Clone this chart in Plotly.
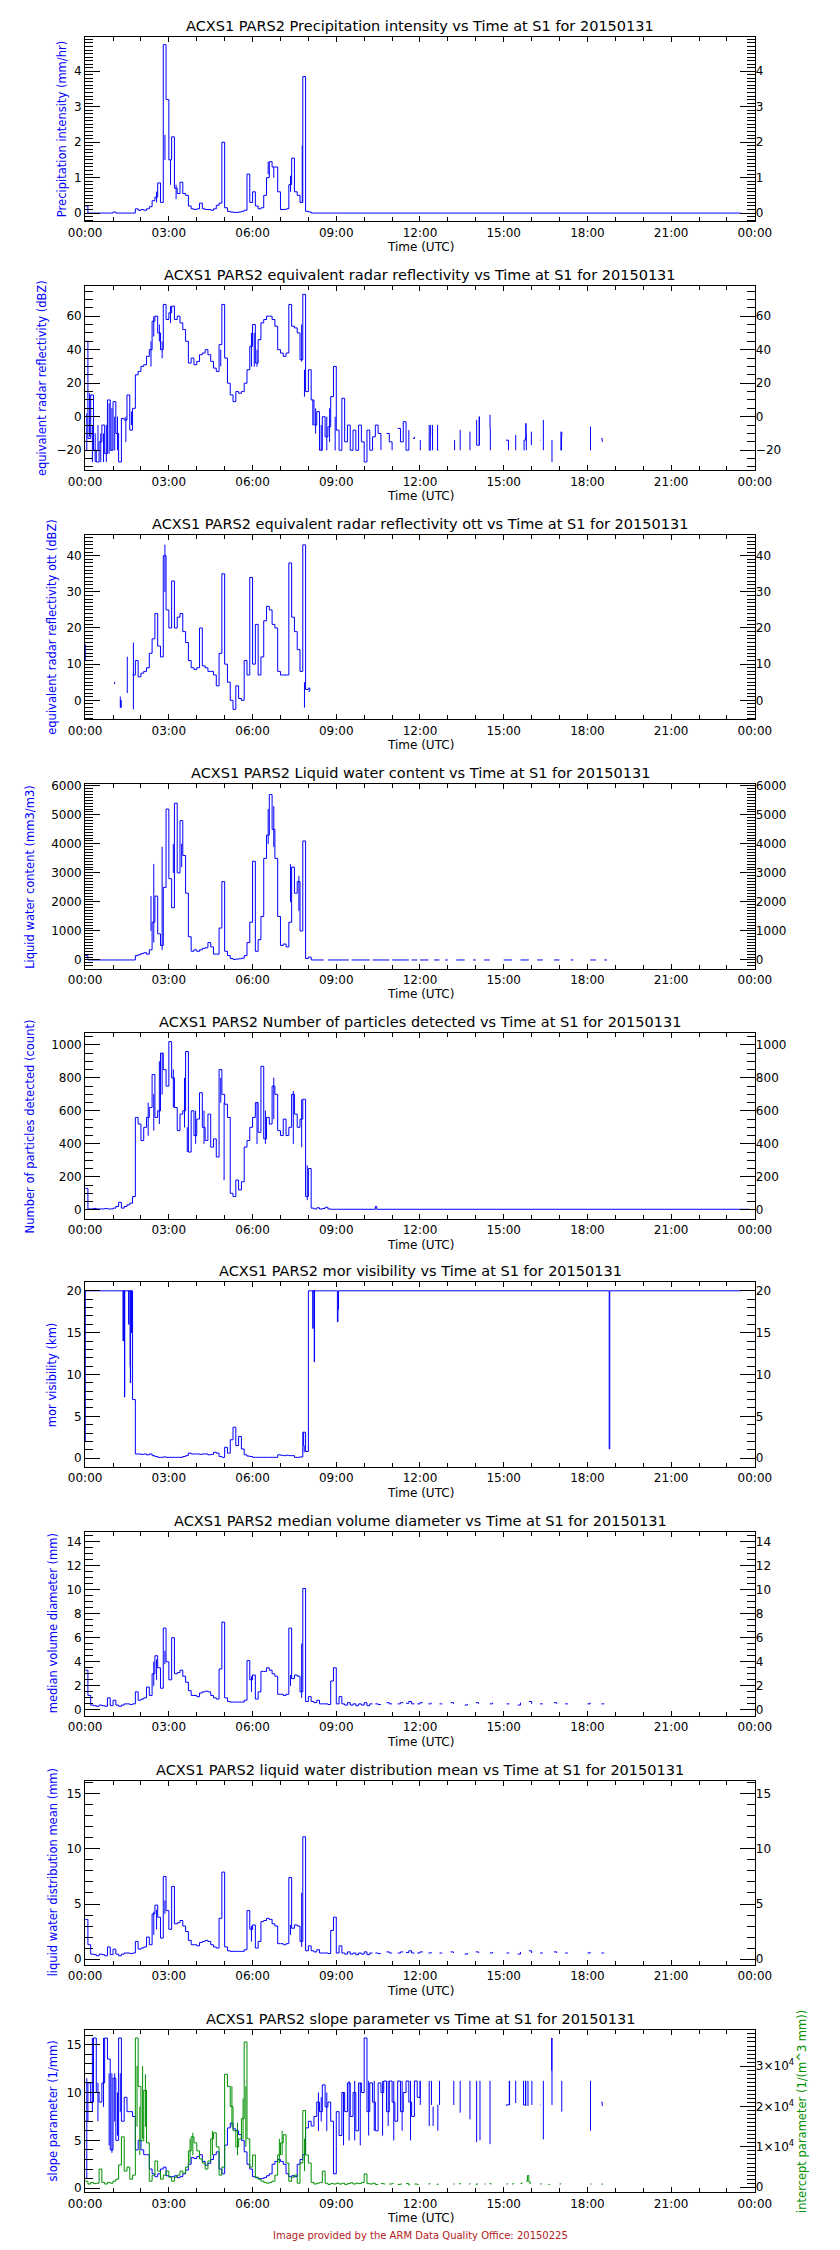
import plotly.graph_objects as go

# ---------------- data ----------------
HOURS = [round(i * 0.1, 1) for i in range(91)]  # sampling grid 00:00 .. 09:00

TICK_HOURS = [0, 3, 6, 9, 12, 15, 18, 21, 24]
TICK_TEXT = ["00:00", "03:00", "06:00", "09:00", "12:00", "15:00", "18:00", "21:00", "00:00"]

TITLES = [
    "ACXS1 PARS2 Precipitation intensity vs Time at S1 for 20150131",
    "ACXS1 PARS2 equivalent radar reflectivity vs Time at S1 for 20150131",
    "ACXS1 PARS2 equivalent radar reflectivity ott vs Time at S1 for 20150131",
    "ACXS1 PARS2 Liquid water content vs Time at S1 for 20150131",
    "ACXS1 PARS2 Number of particles detected vs Time at S1 for 20150131",
    "ACXS1 PARS2 mor visibility vs Time at S1 for 20150131",
    "ACXS1 PARS2 median volume diameter vs Time at S1 for 20150131",
    "ACXS1 PARS2 liquid water distribution mean vs Time at S1 for 20150131",
    "ACXS1 PARS2 slope parameter vs Time at S1 for 20150131",
]
YTITLES = [
    "Precipitation intensity (mm/hr)",
    "equivalent radar reflectivity (dBZ)",
    "equivalent radar reflectivity ott (dBZ)",
    "Liquid water content (mm3/m3)",
    "Number of particles detected (count)",
    "mor visibility (km)",
    "median volume diameter (mm)",
    "liquid water distribution mean (mm)",
    "slope parameter (1/mm)",
]
Y2TITLE = "intercept parameter (1/(m^3 mm))"
FOOTER = "Image provided by the ARM Data Quality Office: 20150225"

PRECIP = [
    0.2, 0, 0, 0, 0, 0, 0, 0, 0, 0,
    0.03, 0, 0, 0, 0, 0, 0, 0, 0.12, 0.08,
    0.1, 0.08, 0.12, 0.18, 0.35, 0.45, 0.85, 0.3, 4.75, 3.2,
    1.5, 2.15, 0.7, 0.55, 0.87, 0.55, 0.5, 0.2, 0.12, 0.1,
    0.12, 0.28, 0.12, 0.1, 0.1, 0.08, 0.12, 0.22, 0.28, 2.0,
    0.15, 0.05, 0.03, 0.02, 0.02, 0.03, 0.05, 0.08, 1.1, 0.3,
    0.6, 0.2, 0.12, 0.15, 0.5, 1.0, 1.45, 1.3, 1.3, 0.6,
    0.1, 0.1, 0.12, 0.8, 1.55, 0.6, 0.5, 0.3, 3.85, 0.05,
    0.03, 0, 0, 0, 0, 0, 0, 0, 0, 0,
    0]
PRECIP_TAIL = [(23.5, 0)]
PRECIP_EXTRA = [(2.55, 0.6), (2.56, 0.3), None, (2.85, 2.2), (2.86, 1.5), None,
                (3.05, 0.8), (3.06, 1.5), None, (3.25, 0.4), (3.26, 0.8), None,
                (6.55, 1.1), (6.56, 1.45), None, (6.75, 1.0), (6.76, 1.3), None,
                (7.35, 1.05), (7.36, 0.6), None, (7.77, 0.3), (7.78, 1.9), (7.8, 1.9)]

REFL = [
    45, -13, 13, -20, -27, -15, -5, -22, 10, -20,
    9, -10, -27, -1, -2, 13, -8, 5, 25, 27,
    30, 31, 36, 40, 57, 60, 50, 40, 67, 58,
    62, 66, 58, 60, 56, 52, 45, 32, 35, 31,
    33, 37, 38, 40, 37, 33, 29, 27, 43, 67,
    35, 20, 13, 9, 15, 14, 15, 20, 28, 42,
    55, 32, 46, 56, 58, 60, 60, 58, 54, 40,
    38, 36, 38, 67, 54, 53, 50, 34, 73, 15,
    28, 10, -5, 3, -20, 0, -12, -6, 12, 30,
    -8]
REFL_TAIL = [
    (9.1, -20), (9.2, 11), (9.3, -15), (9.4, -5), (9.5, -20), (9.6, -8), (9.7, -20),
    (9.8, -5), (9.9, -15), (10.0, -27), (10.1, -8), (10.2, -20), (10.3, -12), (10.4, -5),
    (10.5, -10), (10.6, -20), None, (10.8, -10), (10.9, -15), (11.0, -20), None,
    (11.2, -7), (11.3, -15), (11.4, -3), (11.5, -20), (11.6, -8), None,
    (11.75, -13), (11.8, -12), None, (12.0, -14), (12.01, -20), None,
    (12.32, -5), (12.33, -20), (12.37, -12), (12.38, -5), None,
    (12.44, -5), (12.45, -20), None, (12.62, -5), (12.63, -20), (12.66, -20), None,
    (13.23, -14), (13.24, -20), None, (13.43, -8), (13.44, -20), None,
    (13.78, -9), (13.79, -20), None, (14.02, -2), (14.03, -17), (14.12, 0), (14.13, -17), None,
    (14.5, 1), (14.51, -7), (14.52, -20), None, (15.08, -14), (15.16, -14), (15.17, -20), None,
    (15.42, -11), (15.43, -20), None,
    (15.72, -20), (15.73, -14), (15.78, -12), (15.79, -4), (15.8, -10), (15.81, -20), None,
    (15.98, -9), (15.99, -17), None, (16.3, -14), (16.32, -14), None,
    (16.41, -2), (16.42, -20), None, (16.72, -14), (16.73, -27), None,
    (17.04, -9), (17.05, -20), (17.07, -12), (17.08, -9), None,
    (18.1, -6), (18.11, -20), None, (18.5, -13), (18.53, -15)]
REFL_EXTRA = [
    (0.05, -20), (0.06, 2), None, (0.15, 14), (0.16, -12), None, (0.25, -27), (0.26, -5), None,
    (0.35, -10), (0.36, -27), None, (0.45, -20), (0.46, -5), None, (0.55, -27), (0.56, -10), None,
    (0.65, -27), (0.66, -10), None, (0.75, -5), (0.76, -27), None, (0.85, -22), (0.86, 8), None,
    (0.95, 5), (0.96, -20), None, (1.05, -20), (1.06, 0), None, (1.15, 0), (1.16, -20), None,
    (1.45, -15), (1.46, 0), None, (1.65, 3), (1.66, -5), None, (2.35, 30), (2.36, 45), None,
    (2.45, 48), (2.46, 60), None, (2.65, 45), (2.66, 55), None, (2.75, 35), (2.76, 45), None,
    (3.05, 56), (3.06, 66), None, (4.85, 40), (4.86, 30), None, (5.95, 30), (5.96, 50), None,
    (6.05, 30), (6.06, 50), None, (6.15, 30), (6.16, 40), None, (7.75, 33), (7.76, 55), None,
    (7.85, 12), (7.86, 28), None, (8.15, -5), (8.16, 10), None, (8.25, -10), (8.26, 5), None,
    (8.45, -20), (8.46, -5), None, (8.65, -20), (8.66, 0), None, (8.75, -15), (8.76, 5), None,
    (8.95, -20), (8.96, 0)]

OTT = [
    None, None, None, None, None, None, None, None, None, None,
    None, None, None, None, None, None, None, 7, 11, 6.5,
    7.5, 8, 9, 13, 17, 24, 15, 12, 40, 25,
    20, 33, 20, 23, 24, 19, 16, 11, 9, 8.5,
    9, 20, 9.5, 9, 8, 8, 7, 4, 13, 35,
    10, 5, 0, -2.5, 4, 0.5, 0, 11, 7, 34,
    10, 21, 7, 12, 22, 26, 25, 21, 20, 8,
    7, 7, 7, 38, 23, 19, 14, 8, 43, 3,
    3.5, None, None, None, None, None, None, None, None, None,
    None]
OTT_TAIL = []
OTT_EXTRA = [(0.0, 11), (0.01, 15.5), None, (1.04, 5), (1.06, 4.5), None,
             (1.25, 1), (1.26, -2), (1.28, 0), (1.29, -2), None, (1.5, 12), (1.51, 2), None,
             (1.72, -2.5), (1.73, 16), None, (2.85, 43), (2.86, 30), None,
             (7.85, -2), (7.86, 5), None, (8.0, 2.5), (8.05, 3.5)]

LWC = [
    150, 0, 0, 0, 0, 0, 0, 0, 0, 0,
    0, 0, 0, 0, 0, 0, 0, 0, 150, 180,
    220, 250, 200, 350, 1300, 2200, 900, 500, 2500, 5200,
    2800, 1800, 5400, 3000, 4800, 3600, 2300, 800, 300, 350,
    300, 350, 400, 420, 600, 450, 200, 200, 1100, 2700,
    300, 150, 50, 20, 30, 40, 60, 150, 600, 1300,
    3400, 300, 700, 1500, 3500, 4300, 5700, 4500, 3500, 1500,
    500, 550, 450, 1300, 3200, 2300, 2700, 1000, 4100, 50,
    100, 0, None, None, None, None, None, None, None, None,
    None]
LWC_TAIL = [
    (8.1, 0), (8.55, 0), None, (8.7, 0), (9.45, 0), None, (9.55, 0), (10.2, 0), None,
    (10.3, 0), (10.9, 0), None, (11.0, 0), (11.6, 0), None, (11.7, 0), (11.9, 0), None,
    (12.0, 0), (12.3, 0), None, (12.5, 0), (12.7, 0), None, (12.9, 0), (13.0, 0), None,
    (13.3, 0), (13.6, 0), None, (13.9, 0), (14.0, 0), None, (14.3, 0), (14.5, 0), None,
    (15.0, 0), (15.3, 0), None, (15.6, 0), (15.9, 0), None, (16.2, 0), (16.4, 0), None,
    (16.8, 0), (17.0, 0), None, (17.4, 0), (17.5, 0), None, (18.1, 0), (18.3, 0), None,
    (18.6, 0), (18.7, 0)]
LWC_EXTRA = [(2.35, 2200), (2.36, 1000), None, (2.45, 3300), (2.46, 600), None,
             (2.75, 350), (2.76, 3900), None, (3.15, 3000), (3.16, 4000), None,
             (3.45, 4000), (3.46, 3200), None, (6.55, 4000), (6.56, 5200), None,
             (6.75, 3900), (6.76, 5300), None, (7.35, 2000), (7.36, 3300), None,
             (7.65, 1700), (7.66, 2900)]

COUNT = [
    130, 5, 5, 8, 5, 5, 5, 8, 5, 5,
    10, 20, 45, 10, 20, 30, 40, 80, 560, 520,
    420, 500, 560, 620, 820, 560, 600, 950, 850, 750,
    1020, 800, 620, 480, 580, 600, 960, 350, 600, 450,
    550, 710, 500, 420, 580, 380, 430, 320, 850, 700,
    640, 560, 100, 80, 180, 120, 170, 380, 420, 500,
    560, 650, 470, 870, 430, 560, 520, 750, 700, 480,
    450, 550, 450, 500, 700, 580, 500, 550, 670, 80,
    250, 10, 5, 12, 4, 8, 15, 5, 3, 3,
    3]
COUNT_TAIL = [(10.35, 3), (10.4, 20), (10.45, 3), (23.8, 3)]
COUNT_EXTRA = [(2.25, 450), (2.26, 650), None, (2.45, 700), (2.46, 480), None,
               (2.65, 900), (2.66, 520), None, (2.75, 700), (2.76, 950), None,
               (3.15, 850), (3.16, 620), None, (3.55, 500), (3.56, 800), None,
               (3.65, 500), (3.66, 350), None, (3.95, 600), (3.96, 400), None,
               (4.25, 600), (4.26, 400), None, (4.85, 650), (4.86, 800), None,
               (4.97, 180), (4.98, 650), None, (6.15, 400), (6.16, 650), None,
               (6.45, 600), (6.46, 400), None, (6.75, 800), (6.76, 550), None,
               (7.45, 400), (7.46, 720), None, (7.75, 380), (7.76, 670), None,
               (7.95, 60), (7.96, 270)]

VIS = [
    20, 20, 20, 20, 20, 20, 20, 20, 20, 20,
    20, 20, 20, 20, 20, 20, 20, 7, 0.5, 0.5,
    0.45, 0.5, 0.4, 0.5, 0.3, 0.2, 0.1, 0.1, 0.15, 0.1,
    0.1, 0.1, 0.1, 0.1, 0.1, 0.2, 0.3, 0.6, 0.5, 0.5,
    0.5, 0.45, 0.5, 0.5, 0.4, 0.45, 0.7, 0.6, 0.2, 0.1,
    1.3, 0.6, 2.2, 3.7, 1.5, 2.6, 1.1, 0.4, 0.25, 0.2,
    0.1, 0.1, 0.1, 0.1, 0.1, 0.1, 0.1, 0.1, 0.1, 0.4,
    0.35, 0.3, 0.35, 0.3, 0.3, 0.1, 0.1, 0.15, 3.1, 0.8,
    20, 20, 20, 20, 20, 20, 20, 20, 20, 20,
    20]
VIS_TAIL = [(9.03, 20), (9.04, 16.3), (9.06, 17.8), (9.08, 20), (18.77, 20),
            (18.78, 1.1), (18.8, 20), (23.5, 20)]
VIS_EXTRA = [(0.0, 2), (0.01, 20), None, (1.35, 20), (1.36, 14), (1.37, 20), None,
             (1.4, 20), (1.41, 7.3), (1.42, 20), None, (1.55, 20), (1.56, 16), (1.57, 20), None,
             (1.6, 20), (1.61, 11), (1.62, 9), (1.63, 20), None,
             (1.65, 20), (1.66, 15), (1.67, 20), None, (8.15, 20), (8.16, 15.5), (8.17, 20), None,
             (8.2, 20), (8.21, 11.5), (8.22, 20), None, (7.82, 3.1), (7.83, 1.5), (7.85, 0.7)]

MVD = [
    3.3, 1.2, 0.4, 0.35, 0.3, 0.4, 0.35, 0.3, 1.0, 0.35,
    0.8, 0.4, 0.3, 0.4, 0.5, 0.5, 0.45, 0.5, 1.5, 0.8,
    0.9, 1.0, 1.9, 1.2, 3.0, 4.5, 3.5, 1.8, 6.8, 4.0,
    2.5, 6.0, 3.0, 3.1, 3.3, 2.8, 2.3, 1.6, 1.2, 1.2,
    1.1, 1.4, 1.5, 1.55, 1.5, 1.2, 1.0, 0.9, 3.4, 7.3,
    1.0, 0.7, 0.65, 0.65, 0.65, 0.65, 0.65, 0.8, 4.1, 2.5,
    2.9, 0.9, 1.5, 3.2, 3.2, 3.5, 3.3, 3.0, 2.8, 1.3,
    1.3, 1.2, 1.3, 6.8, 2.6, 2.9, 2.8, 1.5, 10.1, 0.7,
    1.1, 0.7, 0.6, 0.8, 0.5, 0.5, 0.5, 0.45, 2.4, 3.5,
    0.5]
MVD_TAIL = [
    (9.1, 1.1), (9.2, 0.5), (9.3, 0.4), (9.4, 0.6), (9.5, 0.4), (9.6, 0.5), (9.7, 0.35),
    (9.8, 0.5), (9.9, 0.4), (10.0, 0.6), (10.1, 0.35), (10.2, 0.5), (10.3, 0.5), None,
    (10.4, 0.5), (10.5, 0.45), (10.6, 0.45), None, (10.8, 0.6), (10.9, 0.5), (11.0, 0.5), None,
    (11.2, 0.5), (11.3, 0.6), (11.4, 0.6), None, (11.5, 0.55), (11.6, 0.7), (11.7, 0.5),
    (11.8, 0.5), None, (11.9, 0.5), (12.0, 0.6), (12.1, 0.6), None, (12.3, 0.5), (12.4, 0.6), None,
    (12.7, 0.5), (12.8, 0.5), None, (13.1, 0.6), (13.2, 0.5), None, (13.6, 0.4), (13.7, 0.5), None,
    (14.0, 0.6), (14.1, 0.5), None, (14.5, 0.5), (14.6, 0.6), None, (15.1, 0.5), (15.2, 0.5), None,
    (15.5, 0.4), (15.6, 0.6), None, (15.9, 0.7), (16.0, 0.5), None, (16.3, 0.5), (16.4, 0.5), None,
    (16.8, 0.6), (16.9, 0.5), None, (17.2, 0.5), (17.3, 0.5), None, (18.0, 0.5), (18.1, 0.6), None,
    (18.5, 0.5), (18.6, 0.5)]
MVD_EXTRA = [(2.45, 2.0), (2.46, 4.0), None, (2.55, 2.5), (2.56, 4.2), None,
             (2.85, 4.9), (2.86, 3.8), None, (5.95, 1.5), (5.96, 2.8), None,
             (7.35, 2.0), (7.36, 2.9), None, (7.75, 5.5), (7.76, 1.0)]

LWDM = [
    3.6, 1.3, 0.45, 0.4, 0.3, 0.45, 0.4, 0.3, 1.1, 0.4,
    0.9, 0.45, 0.3, 0.45, 0.55, 0.55, 0.5, 0.55, 1.6, 0.9,
    1.0, 1.1, 2.0, 1.3, 4.1, 4.9, 3.8, 1.9, 7.5, 4.4,
    2.7, 6.6, 3.2, 3.3, 3.5, 3.0, 2.5, 1.7, 1.3, 1.3,
    1.2, 1.5, 1.6, 1.7, 1.6, 1.3, 1.1, 1.0, 3.7, 7.9,
    1.1, 0.75, 0.7, 0.7, 0.7, 0.7, 0.7, 0.85, 4.4, 2.7,
    3.1, 1.0, 1.6, 3.4, 3.5, 3.7, 3.6, 3.2, 3.0, 1.4,
    1.4, 1.3, 1.4, 7.4, 2.8, 3.1, 3.0, 1.6, 11.1, 0.75,
    1.2, 0.75, 0.65, 0.85, 0.55, 0.55, 0.55, 0.5, 2.6, 3.8,
    0.55]
LWDM_TAIL = [
    (9.1, 1.2), (9.2, 0.55), (9.3, 0.45), (9.4, 0.65), (9.5, 0.45), (9.6, 0.55), (9.7, 0.4),
    (9.8, 0.55), (9.9, 0.45), (10.0, 0.65), (10.1, 0.4), (10.2, 0.55), (10.3, 0.55), None,
    (10.4, 0.55), (10.5, 0.5), (10.6, 0.5), None, (10.8, 0.65), (10.9, 0.55), (11.0, 0.55), None,
    (11.2, 0.55), (11.3, 0.65), (11.4, 0.65), None, (11.5, 0.6), (11.6, 0.75), (11.7, 0.55),
    (11.8, 0.55), None, (11.9, 0.55), (12.0, 0.65), (12.1, 0.65), None, (12.3, 0.55), (12.4, 0.65), None,
    (12.7, 0.55), (12.8, 0.55), None, (13.1, 0.65), (13.2, 0.55), None, (13.6, 0.45), (13.7, 0.55), None,
    (14.0, 0.65), (14.1, 0.55), None, (14.5, 0.55), (14.6, 0.65), None, (15.1, 0.55), (15.2, 0.55), None,
    (15.5, 0.45), (15.6, 0.65), None, (15.9, 0.75), (16.0, 0.55), None, (16.3, 0.55), (16.4, 0.55), None,
    (16.8, 0.65), (16.9, 0.55), None, (17.2, 0.55), (17.3, 0.55), None, (18.0, 0.55), (18.1, 0.65), None,
    (18.5, 0.55), (18.6, 0.55)]
LWDM_EXTRA = [(2.45, 2.2), (2.46, 4.3), None, (2.55, 2.7), (2.56, 4.5), None,
              (2.85, 5.3), (2.86, 4.1), None, (5.95, 1.6), (5.96, 3.0), None,
              (7.35, 2.2), (7.36, 3.1), None, (7.75, 6.0), (7.76, 1.1)]

SLOPE = [
    7, 11, 9, 15.7, 10, 9, 11, 15.7, 13.5, 4,
    11.5, 5, 15.7, 7, 9.5, 8, 8, 7.5, 4, 5,
    4, 3.5, 3.5, 2, 1.5, 1.2, 1.5, 2, 2.2, 1.3,
    1.2, 1.2, 1.3, 1.1, 1.2, 1.5, 1.9, 2.5, 3.2, 3.1,
    3.3, 3.5, 2.8, 2.4, 2.6, 3.0, 3.5, 3.8, 2.0, 1.5,
    4.5, 6.3, 6.8, 6.2, 6.0, 5.6, 5.0, 3.8, 2.5, 2.0,
    1.2, 1.1, 1.0, 1.0, 1.1, 1.3, 1.5, 2.5, 2.8, 3.0,
    2.8, 2.5, 1.5, 1.2, 1.3, 1.2, 2.5, 3.0, 3.5, 6.3,
    7.0, 6.5, 7.5, 9.0, 8.0, 10.8, 8.5, 9.0, 7.0, 1.5,
    8.0]
SLOPE_TAIL = [
    (9.1, 5.5), (9.2, 10), (9.3, 8), (9.4, 11), (9.5, 7.5), (9.6, 10), (9.7, 6), (9.8, 11),
    (9.9, 10), (10.0, 15.7), (10.1, 8), (10.2, 11), (10.3, 9), (10.4, 6), (10.5, 11), (10.6, 10),
    (10.7, 11.2), (10.8, 8), (10.9, 11.2), (11.0, 9), (11.1, 7), (11.2, 11.2), (11.3, 8),
    (11.4, 10), (11.5, 11.2), (11.6, 9), (11.7, 7.5), (11.8, 11.2), (11.9, 9.5), (12.0, 11.2),
    (12.01, 8.7), None, (12.32, 11.2), (12.33, 6.5), None, (12.4, 11.2), (12.41, 8.7), None,
    (12.46, 8.5), (12.47, 6.5), None, (12.63, 8.7), (12.64, 6.0), None, (12.69, 11.2), (12.7, 8.7), None,
    (13.2, 11.2), (13.21, 8.7), None, (13.43, 11.2), (13.44, 7.9), None, (13.78, 11.2), (13.79, 7.2), None,
    (14.02, 11.2), (14.03, 4.8), None, (14.14, 11.2), (14.15, 5.0), None, (14.5, 11.2), (14.51, 4.6), None,
    (15.07, 8.7), (15.19, 8.7), (15.2, 11.2), (15.21, 8.7), None, (15.42, 11.2), (15.43, 8.9), None,
    (15.7, 11.2), (15.71, 8.7), (15.78, 11.2), (15.79, 8.6), None, (15.86, 11.2), (15.87, 8.6), None,
    (16.0, 11.2), (16.01, 8.7), None, (16.3, 8.7), (16.32, 8.7), None, (16.41, 11.2), (16.42, 5.1), None,
    (16.71, 12.3), (16.72, 15.7), (16.73, 8.7), None, (17.07, 11.2), (17.08, 8.0), None,
    (18.1, 11.2), (18.11, 6.0), None, (18.5, 9.0), (18.53, 8.6)]
SLOPE_EXTRA = [
    (0.05, 1), (0.06, 11.5), None, (0.25, 15.7), (0.26, 8), None, (0.45, 11), (0.46, 7), None,
    (0.65, 8.5), (0.66, 15.7), None, (0.85, 4.5), (0.86, 12), None, (0.95, 12), (0.96, 3.7), None,
    (1.05, 7), (1.06, 12), None, (1.15, 5.5), (1.16, 10), None, (1.25, 8), (1.26, 12), None,
    (8.35, 6), (8.36, 10), None, (8.45, 7), (8.46, 9.5), None, (8.65, 6), (8.66, 10), None,
    (9.25, 4.5), (9.26, 10), None, (9.45, 5), (9.46, 11.2), None, (9.65, 11.2), (9.66, 5), None,
    (9.85, 4.5), (9.86, 11), None, (10.15, 11.2), (10.16, 5.5), None, (10.35, 11.2), (10.36, 6), None,
    (10.65, 5.5), (10.66, 11.2), None, (10.85, 11.2), (10.86, 6.5), None, (11.05, 5), (11.06, 11.2), None,
    (11.35, 11.2), (11.36, 6), None, (11.65, 11.2), (11.66, 5)]

INTERCEPT = [
    1500, 800, 1200, 900, 1000, 4500, 1200, 800, 1200, 1000,
    1500, 2000, 5500, 12500, 4000, 5000, 2000, 3000, 37000, 25000,
    11500, 24000, 11000, 1500, 3000, 6500, 4000, 2000, 3000, 4000,
    2500, 1500, 2500, 3000, 4000, 3500, 5000, 9000, 12500, 11000,
    9000, 7000, 6000, 4500, 6500, 12000, 13500, 10000, 3000, 5000,
    28000, 25000, 20000, 14000, 10000, 12000, 17000, 36000, 12000, 5000,
    8000, 2500, 2000, 1500, 1200, 1000, 1200, 1500, 3000, 8000,
    11000, 13000, 6000, 1500, 2500, 3000, 1000, 6000, 19000, 8000,
    6000, 1200, 800, 1000, 1200, 4000, 1000, 700, 900, 800,
    1000]
INTERCEPT_TAIL = [
    (9.1, 800), (9.2, 1000), (9.3, 700), (9.4, 900), (9.5, 1100), (9.6, 800), (9.7, 1000),
    (9.8, 900), (9.9, 1200), (10.0, 3300), (10.1, 900), (10.2, 800), (10.3, 1000), (10.4, 700),
    (10.5, 700), None, (10.6, 900), (10.7, 800), (10.75, 800), None, (10.9, 800), (11.0, 900),
    (11.05, 900), None, (11.2, 700), (11.3, 800), (11.35, 800), None, (11.5, 900), (11.6, 600),
    (11.65, 600), None, (11.8, 800), (11.9, 700), (11.95, 700), None, (12.3, 800), (12.35, 1000), None,
    (12.6, 700), (12.65, 900), None, (13.2, 800), (13.25, 800), None, (13.4, 900), (13.45, 700), None,
    (13.75, 800), (13.8, 900), None, (14.0, 700), (14.05, 1000), None, (14.3, 800), (14.35, 800), None,
    (14.5, 900), (14.55, 700), None, (15.1, 800), (15.15, 900), None, (15.3, 800), (15.35, 1000), None,
    (15.6, 900), (15.65, 1200), None, (15.8, 1500), (15.85, 2900), (15.9, 1300), (15.95, 800), None,
    (16.3, 800), (16.35, 900), None, (16.6, 700), (16.65, 800), None, (17.0, 800), (17.05, 900), None,
    (18.1, 800), (18.15, 800), None, (18.5, 800), (18.55, 700)]
INTERCEPT_EXTRA = [
    (1.85, 30000), (1.86, 15000), None, (1.95, 8000), (1.96, 20000), None,
    (2.05, 30000), (2.06, 12000), None, (2.15, 15000), (2.16, 28000), None,
    (3.75, 6000), (3.76, 12000), None, (3.85, 8000), (3.86, 13500), None,
    (4.55, 8000), (4.56, 14000), None, (5.25, 25000), (5.26, 15000), None,
    (5.45, 8000), (5.46, 16000), None, (5.65, 12000), (5.66, 22000), None,
    (5.75, 25000), (5.76, 10000), None, (6.95, 6000), (6.96, 12000), None,
    (7.05, 8000), (7.06, 14000), None, (7.85, 12000), (7.86, 4000)]

INTERCEPT_TICKS = [0, 10000, 20000, 30000]
INTERCEPT_TICKTEXT = ["0", "1\u00d710<sup>4</sup>", "2\u00d710<sup>4</sup>", "3\u00d710<sup>4</sup>"]

# ---------------- style / layout ----------------
FONT = "DejaVu Sans"
BLUE = "#0000FF"
GREEN = "#009000"
W, H = 840, 2250
PL, PR = 71, 769
TOPS = [32, 282, 532, 782, 1032, 1282, 1532, 1782, 2032]
BOTS = [217, 467, 717, 967, 1218, 1467, 1717, 1967, 2195]
YT_X = [47, 26, 37, 14, 14, 36, 37, 37, 37]


def fx(p):
    return p / W


def fy(p):
    return 1 - p / H


def unzip(pairs):
    xs, ys = [], []
    for p in pairs:
        if p is None:
            xs.append(None)
            ys.append(None)
        else:
            xs.append(p[0])
            ys.append(p[1])
    return xs, ys


def build(main, tail, extra):
    assert len(main) == len(HOURS), len(main)
    tx, ty = unzip(tail)
    ex, ey = unzip(extra)
    x = list(HOURS) + tx
    y = list(main) + ty
    if extra:
        x += [None] + ex
        y += [None] + ey
    return x, y


PANELS = [
    (PRECIP, PRECIP_TAIL, PRECIP_EXTRA, [-0.23, 4.97], 1, 0.1),
    (REFL, REFL_TAIL, REFL_EXTRA, [-32, 78], 20, 5),
    (OTT, OTT_TAIL, OTT_EXTRA, [-5.3, 45.7], 10, 1),
    (LWC, LWC_TAIL, LWC_EXTRA, [-296, 6055], 1000, 100),
    (COUNT, COUNT_TAIL, COUNT_EXTRA, [-54, 1070], 200, 50),
    (VIS, VIS_TAIL, VIS_EXTRA, [-1.03, 21.0], 5, 1),
    (MVD, MVD_TAIL, MVD_EXTRA, [-0.5, 14.83], 2, 0.5),
    (LWDM, LWDM_TAIL, LWDM_EXTRA, [-0.54, 16.2], 5, 1),
    (SLOPE, SLOPE_TAIL, SLOPE_EXTRA, [-0.42, 16.56], 5, 1),
]

fig = go.Figure()
layout = {}
ann = []
TICKFONT = dict(family=FONT, size=12, color="black")

for k, (main, tail, extra, rng, dt, mdt) in enumerate(PANELS):
    n = k + 1
    xs = "" if n == 1 else str(n)
    xname, yname, rname = "x" + xs, "y" + xs, "y" + str(n + 9)
    top, bot = TOPS[k], BOTS[k]

    layout["xaxis" + xs] = dict(
        domain=[fx(PL), fx(PR)], anchor=yname, range=[0, 24],
        tickmode="array", tickvals=TICK_HOURS, ticktext=TICK_TEXT,
        ticks="inside", ticklen=5, tickwidth=1, tickcolor="black",
        minor=dict(tickmode="linear", tick0=0, dtick=1, ticks="inside", ticklen=4,
                   tickwidth=1, tickcolor="black", showgrid=False),
        showline=True, linecolor="black", linewidth=1, mirror="ticks",
        showgrid=False, zeroline=False, tickfont=TICKFONT, fixedrange=True)
    layout["yaxis" + xs] = dict(
        domain=[fy(bot), fy(top)], anchor=xname, range=rng,
        tickmode="linear", tick0=0, dtick=dt,
        ticks="inside", ticklen=15, tickwidth=1, tickcolor="black",
        minor=dict(tick0=0, dtick=mdt, ticks="inside", ticklen=8, tickwidth=1,
                   tickcolor="black", showgrid=False),
        showline=True, linecolor="black", linewidth=1, mirror=True,
        showgrid=False, zeroline=False, tickfont=TICKFONT, fixedrange=True)
    if n < 9:
        layout["yaxis" + str(n + 9)] = dict(
            overlaying=yname, side="right", anchor=xname, range=rng,
            tickmode="linear", tick0=0, dtick=dt,
            ticks="inside", ticklen=15, tickwidth=1, tickcolor="black",
            minor=dict(tick0=0, dtick=mdt, ticks="inside", ticklen=8, tickwidth=1,
                       tickcolor="black", showgrid=False),
            showline=False, showgrid=False, zeroline=False, tickfont=TICKFONT, fixedrange=True)
    else:
        layout["yaxis" + str(n + 9)] = dict(
            overlaying=yname, side="right", anchor=xname, range=[-1230, 39030],
            tickmode="array", tickvals=INTERCEPT_TICKS, ticktext=INTERCEPT_TICKTEXT,
            ticks="inside", ticklen=15, tickwidth=1, tickcolor="black",
            minor=dict(tickmode="linear", tick0=0, dtick=1000, ticks="inside", ticklen=8,
                       tickwidth=1, tickcolor="black", showgrid=False),
            showline=False, showgrid=False, zeroline=False, tickfont=TICKFONT, fixedrange=True)

    x, y = build(main, tail, extra)
    fig.add_trace(go.Scatter(x=x, y=y, mode="lines", xaxis=xname, yaxis=yname,
                             line=dict(color=BLUE, width=1, shape="hv"),
                             connectgaps=False, hoverinfo="skip", showlegend=False))
    if n < 9:
        # same series bound to the right-hand (mirrored) axis, fully transparent,
        # so that plotly draws the right-side tick labels
        fig.add_trace(go.Scatter(x=x, y=y, mode="lines", xaxis=xname, yaxis=rname,
                                 line=dict(color=BLUE, width=1, shape="hv"), opacity=0,
                                 connectgaps=False, hoverinfo="skip", showlegend=False))
    else:
        gx, gy = build(INTERCEPT, INTERCEPT_TAIL, INTERCEPT_EXTRA)
        fig.add_trace(go.Scatter(x=gx, y=gy, mode="lines", xaxis=xname, yaxis=rname,
                                 line=dict(color=GREEN, width=1, shape="hv"),
                                 connectgaps=False, hoverinfo="skip", showlegend=False))

    ann.append(dict(text=TITLES[k], x=fx(420), y=fy(top - 11), xref="paper", yref="paper",
                    xanchor="center", yanchor="middle", showarrow=False,
                    font=dict(family=FONT, size=14.5, color="black")))
    ann.append(dict(text="Time (UTC)", x=fx(420), y=fy(bot + 26), xref="paper", yref="paper",
                    xanchor="center", yanchor="middle", showarrow=False,
                    font=dict(family=FONT, size=12, color="black")))
    ann.append(dict(text=YTITLES[k], x=fx(YT_X[k]), y=fy((top + bot) / 2), xref="paper",
                    yref="paper", xanchor="center", yanchor="middle", textangle=-90,
                    showarrow=False, font=dict(family=FONT, size=11.5, color=BLUE)))

ann.append(dict(text=Y2TITLE, x=fx(818), y=fy((TOPS[8] + BOTS[8]) / 2), xref="paper",
                yref="paper", xanchor="center", yanchor="middle", textangle=-90,
                showarrow=False, font=dict(family=FONT, size=11.5, color=GREEN)))
ann.append(dict(text=FOOTER, x=fx(420), y=fy(2238), xref="paper", yref="paper",
                xanchor="center", yanchor="middle", showarrow=False,
                font=dict(family=FONT, size=10, color="#B22222")))

fig.update_layout(width=W, height=H, margin=dict(l=0, r=0, t=0, b=0),
                  paper_bgcolor="white", plot_bgcolor="white", showlegend=False,
                  font=dict(family=FONT, size=12, color="black"), annotations=ann, **layout)

fig.write_html("out.html", config={"displayModeBar": False, "staticPlot": True},
               post_script="document.body.style.margin='0';")
